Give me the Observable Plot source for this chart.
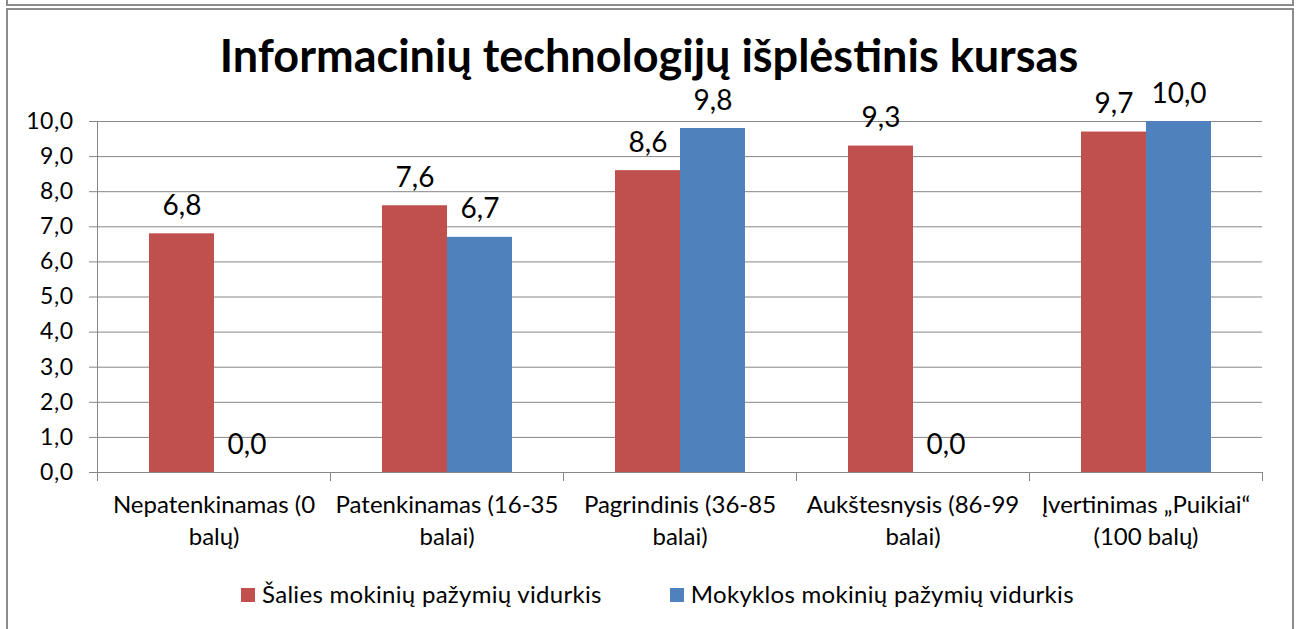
<!DOCTYPE html>
<html>
<head>
<meta charset="utf-8">
<script src="https://cdn.jsdelivr.net/npm/d3@7"></script>
<script src="https://cdn.jsdelivr.net/npm/@observablehq/plot@0.6"></script>
<style>
  body { margin: 0; background: #fff; }
  #wrap { position: relative; width: 1298px; height: 629px; overflow: hidden; font-family: Lato, sans-serif; color: #000; }
  #prev { position: absolute; left: 6px; top: -12px; width: 1284px; height: 14px; border: 2px solid #8c8c8c; box-sizing: content-box; }
  #box { position: absolute; left: 6px; top: 8px; width: 1284px; height: 700px; border: 2px solid #8c8c8c; }
  #chart { position: absolute; left: 0; top: 0; }
  #title { position: absolute; left: 0; top: 28px; width: 1298px; text-align: center; font-weight: bold; font-size: 45px; line-height: normal; white-space: nowrap; }
  #legend { position: absolute; left: 241px; top: 579px; display: flex; align-items: center; font-size: 24px; letter-spacing: 0.3px; line-height: normal; white-space: nowrap; }
  .sw { width: 14px; height: 14px; margin-right: 7px; margin-top: 2px; }
  .item { display: flex; align-items: center; margin-right: 68px; }
  g[aria-label="y-axis tick label"] { letter-spacing: 0.5px; }
</style>
</head>
<body>
<div id="wrap">
  <div id="prev"></div>
  <div id="box"></div>
  <div id="chart"></div>
  <div id="title"></div>
  <div id="legend"></div>
</div>
<script>
const title = "Informacinių technologijų išplėstinis kursas";
const categories = [
  "Nepatenkinamas (0\nbalų)",
  "Patenkinamas (16-35\nbalai)",
  "Pagrindinis (36-85\nbalai)",
  "Aukštesnysis (86-99\nbalai)",
  "Įvertinimas „Puikiai“\n(100 balų)"
];
const series = ["Šalies mokinių pažymių vidurkis", "Mokyklos mokinių pažymių vidurkis"];
const saliesValues = [6.8, 7.6, 8.6, 9.3, 9.7];
const mokyklosValues = [0.0, 6.7, 9.8, 0.0, 10.0];
const yTicks = [0, 1, 2, 3, 4, 5, 6, 7, 8, 9, 10];
const colors = ["#C0504D", "#4F81BD"];

const fmt = v => v.toFixed(1).replace(".", ",");

const data = [];
categories.forEach((c, i) => {
  data.push({category: c, series: series[0], value: saliesValues[i]});
  data.push({category: c, series: series[1], value: mokyklosValues[i]});
});

const W = 1298, H = 629, mt = 121, mb = 157, ml = 96, mr = 36;
const plotH = H - mt - mb;
const grey = "#868686";

const chart = Plot.plot({
  width: W, height: H,
  marginTop: mt, marginBottom: mb, marginLeft: ml, marginRight: mr,
  style: {fontFamily: "Lato, sans-serif", color: "#000", background: "transparent"},
  fx: {domain: categories, padding: 0, axis: null, label: null},
  x: {domain: series, paddingInner: 0, paddingOuter: 0.767, axis: null},
  y: {domain: [0, 10], axis: null},
  color: {domain: series, range: colors},
  marks: [
    Plot.ruleY(yTicks, {stroke: grey, strokeWidth: 1}),
    Plot.barY(data, {fx: "category", x: "series", y: "value", fill: "series"}),
    Plot.text(data, {fx: "category", x: "series", y: "value", text: d => fmt(d.value),
      lineAnchor: "bottom", dy: -19, fontSize: 28, fill: "#000"}),
    Plot.frame({anchor: "left", facetAnchor: "left", insetBottom: -8, stroke: grey}),
    Plot.frame({anchor: "right", insetTop: plotH, insetBottom: -8, stroke: grey}),
    Plot.axisY(yTicks, {anchor: "left", tickSize: 8, tickPadding: 16, tickFormat: fmt,
      fontSize: 23, stroke: grey, fill: "#000", label: null}),
    Plot.axisFx({anchor: "bottom", tickSize: 0, tickPadding: 18, fontSize: 24, lineHeight: 1.33,
      fill: "#000", label: null})
  ]
});
document.getElementById("chart").appendChild(chart);

document.getElementById("title").textContent = title;
const leg = document.getElementById("legend");
series.forEach((s, i) => {
  const it = document.createElement("div");
  it.className = "item";
  const sw = document.createElement("div");
  sw.className = "sw";
  sw.style.background = colors[i];
  const t = document.createElement("span");
  t.textContent = s;
  it.appendChild(sw); it.appendChild(t);
  leg.appendChild(it);
});
</script>
</body>
</html>
